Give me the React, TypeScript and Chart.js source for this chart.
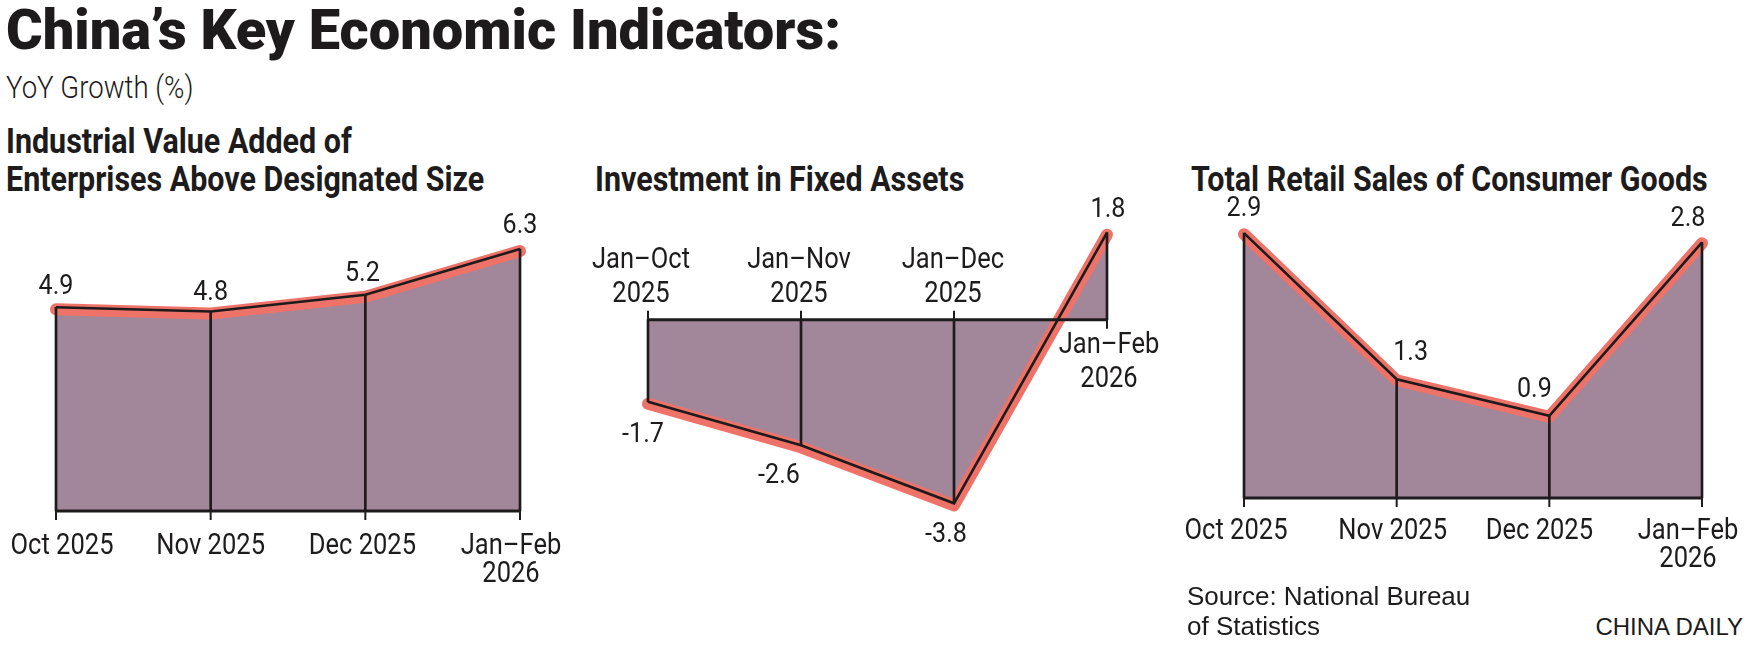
import React, { useEffect, useRef } from "react";
import { Chart, registerables } from "chart.js";

Chart.register(...registerables);

// ---------- data ----------
const industrialLabels: string[][] = [["Oct 2025"], ["Nov 2025"], ["Dec 2025"], ["Jan–Feb", "2026"]];
const industrialValues: number[] = [4.9, 4.8, 5.2, 6.3];

const investmentLabels: string[][] = [["Jan–Oct", "2025"], ["Jan–Nov", "2025"], ["Jan–Dec", "2025"], ["Jan–Feb", "2026"]];
const investmentValues: number[] = [-1.7, -2.6, -3.8, 1.8];

const retailLabels: string[][] = [["Oct 2025"], ["Nov 2025"], ["Dec 2025"], ["Jan–Feb", "2026"]];
const retailValues: number[] = [2.9, 1.3, 0.9, 2.8];

// ---------- styles ----------
const INK = "#1d1b1c";
const FILL = "#a2879a";
const SALMON = "#ef7268";
const FONT = "Roboto, sans-serif";

type PanelCfg = {
  left: number; top: number; w: number; h: number;
  pad: { left: number; right: number; top: number; bottom: number };
  yMin: number; yMax: number;
  tickDir: number[];
  catSide: number[]; // 1 below, -1 above
  catDx: number[];
  catGap: number;
  lineH: number;
  valDx: number[];
  valDy: number[];
  shift: [number, number];
};

function squeezeText(ctx: CanvasRenderingContext2D, t: string, x: number, y: number, sx: number) {
  ctx.save();
  ctx.translate(x, y);
  ctx.scale(sx, 1);
  ctx.fillText(t, 0, 0);
  ctx.restore();
}

const annotate = {
  id: "annotate",
  beforeDatasetDraw(chart: any, args: any, opts: any) {
    if (args.index === 1) {
      chart.ctx.save();
      chart.ctx.translate(opts.shift[0], opts.shift[1]);
    }
  },
  afterDatasetDraw(chart: any, args: any) {
    if (args.index === 1) chart.ctx.restore();
  },
  afterDatasetsDraw(chart: any, _a: any, opts: any) {
    const ctx = chart.ctx as CanvasRenderingContext2D;
    const xs = chart.scales.x;
    const ys = chart.scales.y;
    const labels = chart.data.labels as string[][];
    const vals = chart.data.datasets[0].data as number[];
    const n = labels.length;
    const y0 = ys.getPixelForValue(0);
    ctx.save();
    // baseline
    ctx.strokeStyle = INK;
    ctx.lineWidth = 3;
    ctx.beginPath();
    ctx.moveTo(xs.getPixelForValue(0) - 1, y0);
    ctx.lineTo(xs.getPixelForValue(n - 1) + 1, y0);
    ctx.stroke();
    // ticks
    ctx.lineWidth = 2;
    for (let i = 0; i < n; i++) {
      const px = xs.getPixelForValue(i);
      ctx.beginPath();
      ctx.moveTo(px, y0);
      ctx.lineTo(px, y0 + opts.tickDir[i] * 9);
      ctx.stroke();
    }
    // category labels
    ctx.fillStyle = INK;
    ctx.textAlign = "center";
    ctx.textBaseline = "alphabetic";
    ctx.font = `29px ${FONT}`;
    for (let i = 0; i < n; i++) {
      const px = xs.getPixelForValue(i) + opts.catDx[i];
      const lines = labels[i];
      lines.forEach((t: string, k: number) => {
        let by: number;
        if (opts.catSide[i] > 0) by = y0 + opts.catGap + k * opts.lineH;
        else by = y0 - 18 - (lines.length - 1 - k) * opts.lineH;
        squeezeText(ctx, t, px, by, 0.88);
      });
    }
    // value labels
    ctx.font = `27px ${FONT}`;
    for (let i = 0; i < n; i++) {
      const px = xs.getPixelForValue(i) + opts.valDx[i];
      const py = ys.getPixelForValue(vals[i]);
      squeezeText(ctx, vals[i].toFixed(1), px, py + opts.valDy[i], 0.93);
    }
    ctx.restore();
  },
};

function Panel({ labels, values, cfg }: { labels: string[][]; values: number[]; cfg: PanelCfg }) {
  const ref = useRef<HTMLCanvasElement>(null);
  useEffect(() => {
    const chart = new Chart(ref.current as HTMLCanvasElement, {
      type: "line",
      data: {
        labels: labels as any,
        datasets: [
          {
            type: "line",
            data: values,
            borderWidth: 0,
            backgroundColor: FILL,
            fill: "origin",
            pointRadius: 0,
            tension: 0,
            order: 4,
            clip: false as any,
          },
          {
            type: "line",
            data: values,
            borderColor: SALMON,
            borderWidth: 12,
            borderCapStyle: "round",
            borderJoinStyle: "round",
            fill: false,
            pointRadius: 0,
            tension: 0,
            order: 3,
            clip: false as any,
          },
          {
            type: "line",
            data: values,
            borderColor: INK,
            borderWidth: 2.6,
            borderJoinStyle: "miter",
            fill: false,
            pointRadius: 0,
            tension: 0,
            order: 2,
            clip: false as any,
          },
          {
            type: "bar",
            data: values,
            backgroundColor: INK,
            barThickness: 2,
            borderWidth: 0,
            order: 1,
            clip: false as any,
          } as any,
        ],
      },
      options: {
        animation: false,
        responsive: false,
        devicePixelRatio: 1,
        events: [],
        layout: { padding: cfg.pad },
        plugins: {
          legend: { display: false },
          tooltip: { enabled: false },
          title: { display: false },
          annotate: {
            tickDir: cfg.tickDir,
            catSide: cfg.catSide,
            catDx: cfg.catDx,
            catGap: cfg.catGap,
            lineH: cfg.lineH,
            valDx: cfg.valDx,
            valDy: cfg.valDy,
            shift: cfg.shift,
          },
        } as any,
        scales: {
          x: { type: "category", display: false, offset: false },
          y: { type: "linear", display: false, min: cfg.yMin, max: cfg.yMax },
        },
      },
      plugins: [annotate as any],
    });
    return () => chart.destroy();
  }, []);
  return (
    <canvas
      ref={ref}
      width={cfg.w}
      height={cfg.h}
      style={{ position: "absolute", left: cfg.left, top: cfg.top, width: cfg.w, height: cfg.h }}
    />
  );
}

const cfg1: PanelCfg = {
  left: 0, top: 200, w: 580, h: 410,
  pad: { left: 56, right: 60, top: 20, bottom: 99 },
  yMin: 0, yMax: 7,
  tickDir: [1, 1, 1, 1],
  catSide: [1, 1, 1, 1],
  catDx: [6, 0, -3, -9],
  catGap: 43, lineH: 28,
  valDx: [0, 0, -3, 0],
  valDy: [-13, -11, -14, -16],
  shift: [0, 2],
};

const cfg2: PanelCfg = {
  left: 580, top: 180, w: 590, h: 420,
  pad: { left: 68, right: 63, top: 43, bottom: 87 },
  yMin: -4, yMax: 2,
  tickDir: [-1, -1, -1, 1],
  catSide: [-1, -1, -1, 1],
  catDx: [-7, -2, -1, 2],
  catGap: 33, lineH: 34,
  valDx: [-5, -22, -8, 1],
  valDy: [40, 38, 39, -16],
  shift: [0, 2],
};

const cfg3: PanelCfg = {
  left: 1170, top: 180, w: 590, h: 420,
  pad: { left: 74, right: 58, top: 44, bottom: 102 },
  yMin: 0, yMax: 3,
  tickDir: [1, 1, 1, 1],
  catSide: [1, 1, 1, 1],
  catDx: [-8, -4, -10, -14],
  catGap: 41, lineH: 28,
  valDx: [0, 14, -15, -14],
  valDy: [-17, -19, -19, -16],
  shift: [0, 1],
};

const box = (extra: React.CSSProperties): React.CSSProperties => ({
  position: "absolute",
  margin: 0,
  whiteSpace: "nowrap",
  color: INK,
  ...extra,
});

const squeeze = (k: number): React.CSSProperties => ({
  display: "inline-block",
  transform: `scaleX(${k})`,
  transformOrigin: "0 0",
});

export default function App() {
  return (
    <div style={{ position: "absolute", left: 0, top: 0, width: 1760, height: 654, background: "#fff", overflow: "hidden" }}>
      <div style={box({ left: 6, top: 2, fontFamily: FONT, fontWeight: 900, fontSize: 56, lineHeight: "56px" })}>
        China’s Key Economic Indicators:
      </div>
      <div style={box({ left: 6, top: 72, fontFamily: FONT, fontWeight: 300, fontSize: 31, lineHeight: "31px" })}>
        <span style={squeeze(0.89)}>YoY Growth (%)</span>
      </div>
      <div style={box({ left: 6, top: 123, fontFamily: FONT, fontWeight: 700, fontSize: 35, lineHeight: "38px" })}>
        <span style={squeeze(0.87)}>
          Industrial Value Added of
          <br />
          Enterprises Above Designated Size
        </span>
      </div>
      <div style={box({ left: 595, top: 161, fontFamily: FONT, fontWeight: 700, fontSize: 35, lineHeight: "38px" })}>
        <span style={squeeze(0.87)}>Investment in Fixed Assets</span>
      </div>
      <div style={box({ left: 1191, top: 161, fontFamily: FONT, fontWeight: 700, fontSize: 35, lineHeight: "38px" })}>
        <span style={squeeze(0.87)}>Total Retail Sales of Consumer Goods</span>
      </div>
      <Panel labels={industrialLabels} values={industrialValues} cfg={cfg1} />
      <Panel labels={investmentLabels} values={investmentValues} cfg={cfg2} />
      <Panel labels={retailLabels} values={retailValues} cfg={cfg3} />
      <div style={box({ left: 1187, top: 581, fontFamily: '"Liberation Sans", Arial, sans-serif', fontSize: 26, lineHeight: "30px" })}>
        Source: National Bureau
        <br />
        of Statistics
      </div>
      <div style={box({ right: 17, top: 615, fontFamily: '"Liberation Sans", Arial, sans-serif', fontSize: 24, lineHeight: "24px" })}>
        CHINA DAILY
      </div>
    </div>
  );
}
